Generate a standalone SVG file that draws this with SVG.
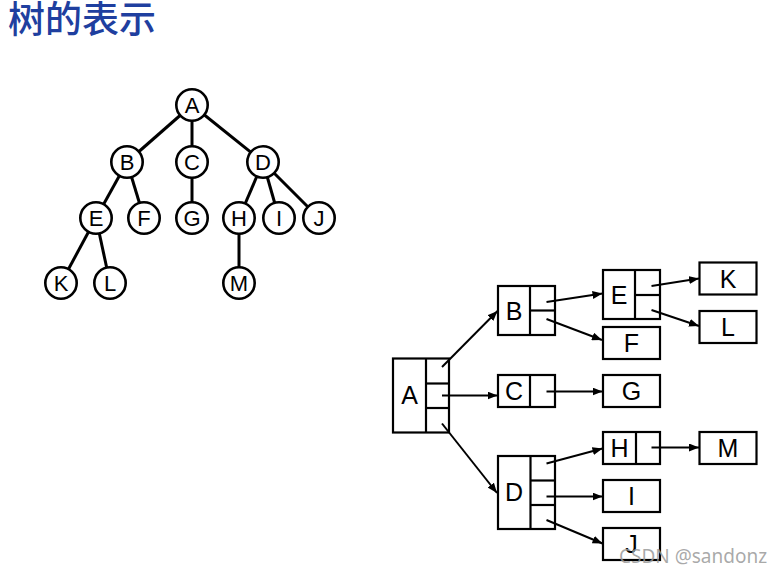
<svg xmlns="http://www.w3.org/2000/svg" width="783" height="575" viewBox="0 0 783 575">
<defs>
<marker id="ah" viewBox="0 0 10 8" refX="10" refY="4" markerWidth="10" markerHeight="8" markerUnits="userSpaceOnUse" orient="auto">
<path d="M0,0 L10,4 L0,8 Z" fill="#000"/>
</marker>
</defs>
<style>
.title{font-family:"Noto Sans CJK SC","Liberation Sans",sans-serif;font-size:37px;font-weight:500;fill:#1f3f9f}
.tl{stroke:#000;stroke-width:3;fill:none}
.c circle{fill:#fff;stroke:#000;stroke-width:2.6}
.c text{font-family:"Liberation Sans",Arial,sans-serif;font-size:22px;text-anchor:middle;fill:#000}
.b rect,.b line{fill:#fff;stroke:#000;stroke-width:2.2}
.b text{font-family:"Liberation Sans",Arial,sans-serif;font-size:25px;text-anchor:middle;fill:#000}
.ar{stroke:#000;stroke-width:2;fill:none;marker-end:url(#ah)}
.wm{font-family:"Noto Sans","DejaVu Sans",sans-serif;font-size:19px;fill:#9a9a9a;fill-opacity:0.85}
</style>
<rect width="783" height="575" fill="#fff"/>
<text class="title" x="8" y="33">树的表示</text>

<g id="tree-edges">
<line class="tl" x1="192" y1="105" x2="127" y2="162"/>
<line class="tl" x1="192" y1="105" x2="192" y2="162"/>
<line class="tl" x1="192" y1="105" x2="263" y2="162"/>
<line class="tl" x1="127" y1="162" x2="96" y2="218"/>
<line class="tl" x1="127" y1="162" x2="144" y2="218"/>
<line class="tl" x1="192" y1="162" x2="192" y2="218"/>
<line class="tl" x1="263" y1="162" x2="239" y2="218"/>
<line class="tl" x1="263" y1="162" x2="279" y2="218"/>
<line class="tl" x1="263" y1="162" x2="319" y2="218"/>
<line class="tl" x1="96" y1="218" x2="61" y2="283"/>
<line class="tl" x1="96" y1="218" x2="110" y2="283"/>
<line class="tl" x1="239" y1="218" x2="239" y2="283"/>
</g>

<g id="tA" class="c"><circle cx="192" cy="105" r="15.7"/><text x="192" y="113">A</text></g>
<g id="tB" class="c"><circle cx="127" cy="162" r="15.7"/><text x="127" y="170">B</text></g>
<g id="tC" class="c"><circle cx="192" cy="162" r="15.7"/><text x="192" y="170">C</text></g>
<g id="tD" class="c"><circle cx="263" cy="162" r="15.7"/><text x="263" y="170">D</text></g>
<g id="tE" class="c"><circle cx="96" cy="218" r="15.7"/><text x="96" y="226">E</text></g>
<g id="tF" class="c"><circle cx="144" cy="218" r="15.7"/><text x="144" y="226">F</text></g>
<g id="tG" class="c"><circle cx="192" cy="218" r="15.7"/><text x="192" y="226">G</text></g>
<g id="tH" class="c"><circle cx="239" cy="218" r="15.7"/><text x="239" y="226">H</text></g>
<g id="tI" class="c"><circle cx="279" cy="218" r="15.7"/><text x="279" y="226">I</text></g>
<g id="tJ" class="c"><circle cx="319" cy="218" r="15.7"/><text x="319" y="226">J</text></g>
<g id="tK" class="c"><circle cx="61" cy="283" r="15.7"/><text x="61" y="291">K</text></g>
<g id="tL" class="c"><circle cx="110" cy="283" r="15.7"/><text x="110" y="291">L</text></g>
<g id="tM" class="c"><circle cx="239" cy="283" r="15.7"/><text x="239" y="291">M</text></g>

<g id="bA" class="b"><rect x="393" y="358.5" width="56" height="74"/><line x1="426" y1="358.5" x2="426" y2="432.5"/><line x1="426" y1="383.5" x2="449" y2="383.5"/><line x1="426" y1="408" x2="449" y2="408"/><text x="409.5" y="404">A</text></g>
<g id="bB" class="b"><rect x="498" y="286" width="57" height="49"/><line x1="530" y1="286" x2="530" y2="335"/><line x1="530" y1="310.5" x2="555" y2="310.5"/><text x="514" y="319.5">B</text></g>
<g id="bC" class="b"><rect x="498" y="375" width="57" height="32"/><line x1="530" y1="375" x2="530" y2="407"/><text x="514" y="400">C</text></g>
<g id="bD" class="b"><rect x="498" y="456" width="57" height="73"/><line x1="530.5" y1="456" x2="530.5" y2="529"/><line x1="530.5" y1="480.5" x2="555" y2="480.5"/><line x1="530.5" y1="505" x2="555" y2="505"/><text x="514" y="501">D</text></g>
<g id="bE" class="b"><rect x="603" y="270" width="57" height="49"/><line x1="635" y1="270" x2="635" y2="319"/><line x1="635" y1="295" x2="660" y2="295"/><text x="619" y="303.5">E</text></g>
<g id="bF" class="b"><rect x="603" y="327" width="57" height="32"/><text x="631.5" y="352">F</text></g>
<g id="bG" class="b"><rect x="603" y="375" width="57" height="32"/><text x="631.5" y="400">G</text></g>
<g id="bH" class="b"><rect x="603" y="432" width="57" height="32"/><line x1="636" y1="432" x2="636" y2="464"/><text x="619.5" y="457">H</text></g>
<g id="bI" class="b"><rect x="603" y="480" width="57" height="32"/><text x="631.5" y="505">I</text></g>
<g id="bJ" class="b"><rect x="603" y="528" width="57" height="32"/><text x="631.5" y="553">J</text></g>
<g id="bK" class="b"><rect x="699.5" y="262.5" width="57" height="32"/><text x="728" y="287.5">K</text></g>
<g id="bL" class="b"><rect x="699.5" y="311" width="57" height="32"/><text x="728" y="336">L</text></g>
<g id="bM" class="b"><rect x="699.5" y="432" width="57" height="32"/><text x="728" y="457">M</text></g>

<g id="connectors">
<line class="ar" x1="442" y1="367" x2="497.5" y2="311"/>
<line class="ar" x1="442" y1="395.5" x2="497.5" y2="395.5"/>
<line class="ar" x1="442" y1="423.5" x2="497" y2="493"/>
<line class="ar" x1="546.5" y1="302" x2="602.5" y2="293.5"/>
<line class="ar" x1="546.5" y1="319" x2="602" y2="340"/>
<line class="ar" x1="546.5" y1="391.5" x2="602.5" y2="391.5"/>
<line class="ar" x1="651.5" y1="286" x2="699" y2="278.5"/>
<line class="ar" x1="651.5" y1="310" x2="699" y2="326"/>
<line class="ar" x1="546.5" y1="463.5" x2="602.5" y2="448.5"/>
<line class="ar" x1="546.5" y1="496.5" x2="602.5" y2="496.5"/>
<line class="ar" x1="546.5" y1="520" x2="602.5" y2="543.5"/>
<line class="ar" x1="651.5" y1="447.5" x2="699" y2="447.5"/>
</g>

<text class="wm" x="619" y="563">CSDN @sandonz</text>
</svg>
